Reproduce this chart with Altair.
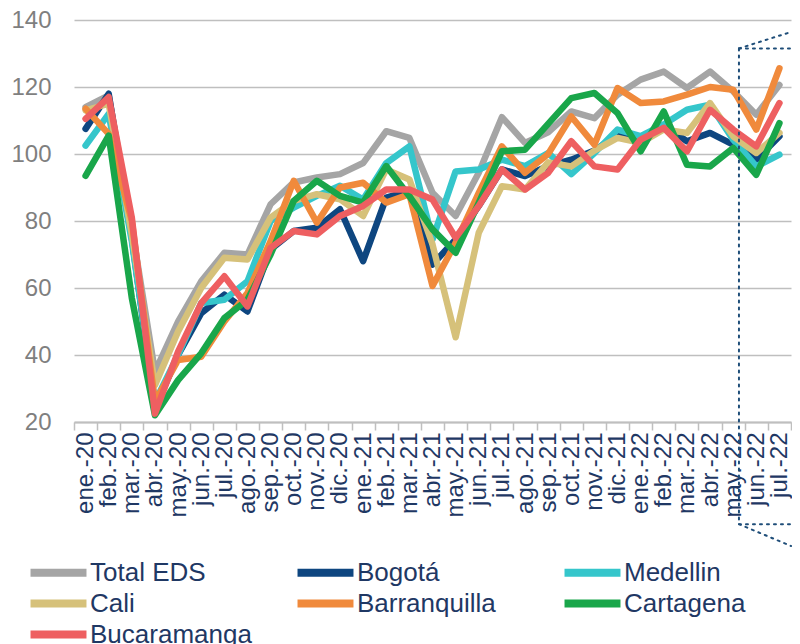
import altair as alt
import pandas as pd

months = ["ene.-20", "feb.-20", "mar.-20", "abr.-20", "may.-20", "jun.-20", "jul.-20",
          "ago.-20", "sep.-20", "oct.-20", "nov.-20", "dic.-20",
          "ene.-21", "feb.-21", "mar.-21", "abr.-21", "may.-21", "jun.-21", "jul.-21",
          "ago.-21", "sep.-21", "oct.-21", "nov.-21", "dic.-21",
          "ene.-22", "feb.-22", "mar.-22", "abr.-22", "may.-22", "jun.-22", "jul.-22"]

total_eds = [114, 117.5, 78, 35, 50, 62, 70.5, 70, 85, 91.5, 93, 94,
             97.3, 106.8, 104.8, 88.4, 81.5, 94.4, 111, 103.3, 106.5, 112.7, 110.7, 117.7,
             122.2, 124.6, 119.7, 124.6, 118.7, 111.7, 120.6]
bogota = [107.5, 118, 75, 24, 40, 52.5, 58, 53, 71.5, 77, 78, 83.5,
          68, 87, 89, 67, 74.5, 84.5, 95.4, 93.4, 96.4, 98.3, 101, 105.8,
          103.3, 108.5, 103.8, 106.3, 102.8, 98.3, 105.3]
medellin = [102.5, 112, 74, 26, 40, 55.5, 56.5, 62, 80, 84, 87.5, 90.5,
            86.4, 97.3, 102.3, 74.5, 94.8, 95.4, 98.3, 96.4, 100.3, 94, 100.3, 107.3,
            105.3, 108.8, 113.2, 114.7, 104.3, 96.3, 99.8]
cali = [113, 115, 76, 31, 47, 60, 69, 68.5, 81, 86, 88, 86.5,
        81.5, 95.4, 92.4, 73, 45.3, 76.5, 90.4, 89.4, 97.5, 96.3, 101, 104.8,
        103.3, 107.3, 106.3, 115.2, 105.3, 100.3, 106.3]
barranquilla = [113.5, 106, 80, 26, 38.5, 39.5, 50, 58.5, 74, 92, 79.5, 90,
                91.4, 85.5, 88, 60.6, 73.5, 88.4, 102.3, 94.4, 100, 111.2, 102.8, 119.7,
                115.2, 115.7, 117.7, 120, 119.2, 107.3, 125.6]
cartagena = [93.5, 105.5, 57, 22, 32.5, 40.5, 51, 56.5, 70, 86, 92, 87.5,
             85.5, 96.4, 87.4, 77.5, 70.5, 85.4, 100.8, 101.3, 109, 116.7, 118.2, 112.2,
             100.8, 112.7, 96.8, 96.3, 101.8, 93.8, 109.2]
bucaramanga = [110.5, 117, 81, 22.5, 41, 55.5, 63.5, 54.5, 72, 77, 76, 81.5,
               84.5, 89.4, 89.4, 86.4, 75, 84.5, 95.4, 89.4, 94.4, 103.8, 96.3, 95.4,
               104.3, 107.8, 100.8, 113.2, 107.3, 102.3, 115.2]

series_names = ["\u00a0Total EDS", "Bogotá", "Medellin", "Cali", "Barranquilla", "Cartagena", "Bucaramanga"]
series_values = [total_eds, bogota, medellin, cali, barranquilla, cartagena, bucaramanga]
colors = ["#A5A5A5", "#0E4680", "#35C6CB", "#D6C17A", "#F08A3C", "#19A64A", "#EE5F61"]

rows = []
for name, vals in zip(series_names, series_values):
    for m, v in zip(months, vals):
        rows.append({"month": m, "value": v, "series": name})
df = pd.DataFrame(rows)

FONT = "Liberation Sans"
W, H = 717, 402

x_enc = alt.X("month:O", bandPosition=0.5,
              scale=alt.Scale(type="band", domain=months, paddingInner=0, paddingOuter=0),
              axis=alt.Axis(title=None, labelAngle=270, labelFontSize=24, labelFont=FONT,
                            labelColor="#1F3864", labelPadding=2, tickBand="extent",
                            tickSize=8, tickColor="#BFBFBF", tickWidth=1.5,
                            domainColor="#BFBFBF", domainWidth=2, grid=False,
                            labelOverlap=False, labelBound=False))
y_enc = alt.Y("value:Q",
              scale=alt.Scale(domain=[20, 140], nice=False, zero=False),
              axis=alt.Axis(title=None, values=[20, 40, 60, 80, 100, 120, 140],
                            labelFontSize=24, labelFont=FONT, labelColor="#7F7F7F",
                            labelPadding=23, ticks=False, domain=False, grid=True,
                            gridColor="#BFBFBF", gridWidth=1.5))
color_enc = alt.Color("series:N",
                      scale=alt.Scale(domain=series_names, range=colors),
                      legend=alt.Legend(title=None, orient="none", direction="horizontal",
                                        legendX=-29, legendY=539,
                                        columns=3, symbolType="M-3,0L3,0", symbolSize=348,
                                        symbolStrokeWidth=8, labelFontSize=26, labelFont=FONT,
                                        labelColor="#1F3864", columnPadding=29, rowPadding=-2,
                                        gridAlign="all", labelOffset=18, labelLimit=0))

layers = []
for name in series_names:
    layers.append(
        alt.Chart(df).transform_filter(alt.datum.series == name)
        .mark_line(strokeWidth=6.5, strokeJoin="round", strokeCap="round")
        .encode(x=x_enc, y=y_enc, color=color_enc)
    )

# dotted call-out box around the last months
box = pd.DataFrame({"month": ["may.-22"], "top": [131.5], "bot": [-10.5]})
dot = dict(color="#1F4E79", strokeWidth=2, strokeDash=[2, 5], strokeCap="round")
bx = alt.X("month:O", bandPosition=0.75)
box_layers = [
    alt.Chart(box).mark_rule(**dot).encode(x=bx, y=alt.Y("top:Q"), y2="bot:Q"),
    alt.Chart(box).mark_rule(**dot).encode(x=bx, x2=alt.value(W), y=alt.Y("top:Q")),
    alt.Chart(box).mark_rule(**dot).encode(x=bx, x2=alt.value(W), y=alt.Y("bot:Q")),
    alt.Chart(box).mark_rule(**dot).encode(x=bx, x2=alt.value(W), y=alt.Y("top:Q"), y2=alt.value(12)),
    alt.Chart(box).mark_rule(**dot).encode(x=bx, x2=alt.value(W), y=alt.Y("bot:Q"), y2=alt.value(526)),
]

chart = alt.layer(*layers, *box_layers).properties(
    width=W, height=H,
    padding={"left": 2, "top": 0, "right": 0, "bottom": 0},
    background="white",
).configure_view(stroke=None)

chart.save("out.html", embed_options={"renderer": "svg", "actions": False})
